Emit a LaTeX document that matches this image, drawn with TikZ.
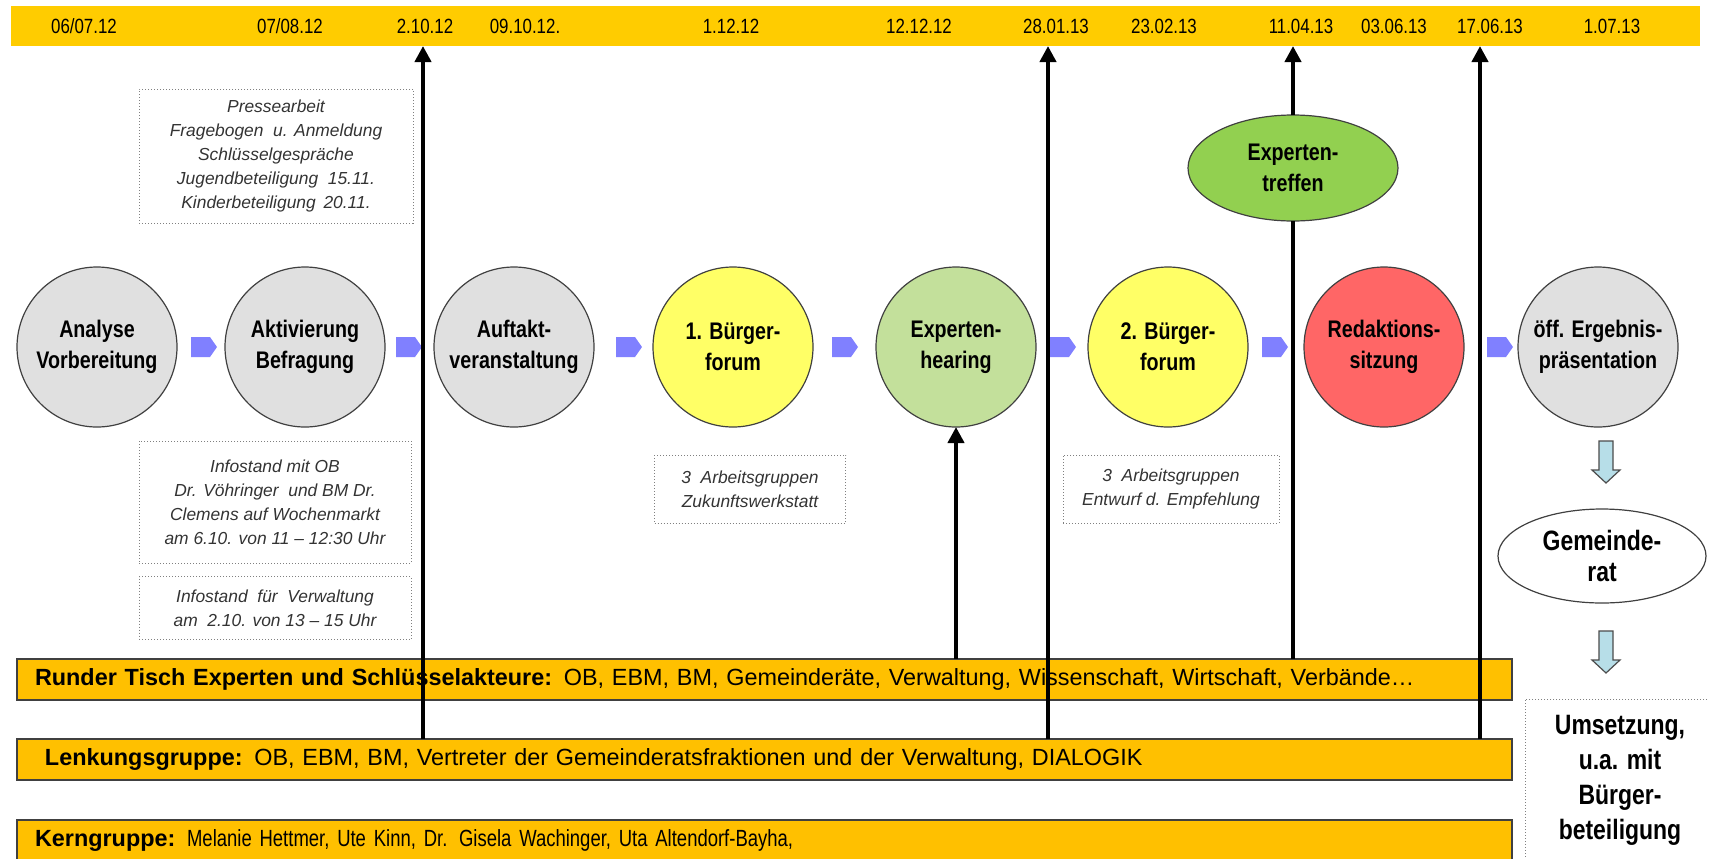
\documentclass[tikz,border=0pt]{standalone}
\usepackage{fontspec}
\setmainfont{Liberation Sans}
\newfontfamily\nar{Liberation Sans}[FakeStretch=0.82]
\newfontfamily\narr{Liberation Sans}[FakeStretch=0.79]
\usetikzlibrary{arrows.meta,shapes.geometric}
\definecolor{bandtop}{HTML}{FFCC00}
\definecolor{bandbot}{HTML}{FFC000}
\definecolor{cgrey}{HTML}{E0E0E0}
\definecolor{cyellow}{HTML}{FFFF66}
\definecolor{cgreen}{HTML}{C3E09B}
\definecolor{cred}{HTML}{FF6666}
\definecolor{egreen}{HTML}{92D050}
\definecolor{chevc}{HTML}{8080FF}
\definecolor{darr}{HTML}{B7DEE8}
\definecolor{edgec}{HTML}{404040}
\tikzset{
  chevron/.pic={\fill[chevc] (0,-10) -- (19,-10) -- (26,0) -- (19,10) -- (0,10) -- cycle;},
  downarrow/.pic={\draw[fill=darr, draw=gray!60!black, line width=0.6pt] (-7,0) -- (7,0) -- (7,29) -- (14,29) -- (0,42) -- (-14,29) -- (-7,29) -- cycle;}
}
\begin{document}
\begin{tikzpicture}[x=0.5pt,y=-0.5pt,
  every node/.style={inner sep=0pt, outer sep=0pt},
  datelbl/.style={font=\nar\fontsize{10.3}{12}\selectfont},
  phase/.style={circle, draw=edgec, line width=0.6pt, minimum size=80pt, align=center, font=\nar\bfseries\fontsize{12}{15.3}\selectfont},
  note/.style={draw=gray, densely dotted, line width=0.5pt, align=center, font=\itshape\fontsize{8.7}{12}\selectfont, text=black!80},
  band/.style={draw=edgec, line width=0.6pt, fill=bandbot, anchor=north west, minimum height=20.5pt, minimum width=747.5pt, inner xsep=9pt, text width=729.5pt, align=left, font=\fontsize{11.7}{14}\selectfont},
  vline/.style={line width=2pt},
  vtip/.style={-{Triangle[width=8pt,length=8pt]}}
]
\useasboundingbox (0,0) rectangle (1709,858);

% timeline band
\node[fill=bandtop, anchor=north west, minimum width=844.5pt, minimum height=20pt] (top) at (11,6) {};
\node[datelbl] (d1) at (84,26) {06/07.12};
\node[datelbl] (d2) at (290,26) {07/08.12};
\node[datelbl] (d3) at (425,26) {2.10.12};
\node[datelbl] (d4) at (525,26) {09.10.12.};
\node[datelbl] (d5) at (731,26) {1.12.12};
\node[datelbl] (d6) at (919,26) {12.12.12};
\node[datelbl] (d7) at (1056,26) {28.01.13};
\node[datelbl] (d8) at (1164,26) {23.02.13};
\node[datelbl] (d9) at (1301,26) {11.04.13};
\node[datelbl] (d10) at (1394,26) {03.06.13};
\node[datelbl] (d11) at (1490,26) {17.06.13};
\node[datelbl] (d12) at (1612,26) {1.07.13};

% bottom bands
\node[band] (runder) at (17,659) {{\bfseries Runder Tisch Experten und Schlüsselakteure:} OB, EBM, BM, Gemeinderäte, Verwaltung, Wissenschaft, Wirtschaft, Verbände…};
\node[band] (lenk) at (17,739) {\hspace{5pt}{\bfseries Lenkungsgruppe:} OB, EBM, BM, Vertreter der Gemeinderatsfraktionen und der Verwaltung, DIALOGIK};
\node[band] (kern) at (17,820) {{\bfseries Kerngruppe:} {\narr Melanie Hettmer, Ute Kinn, Dr. Gisela Wachinger, Uta Altendorf-Bayha,}};

% notes
\node[note, minimum width=137pt, minimum height=67pt] (press) at (276,156) {Pressearbeit\\Fragebogen \ u. Anmeldung\\Schlüsselgespräche\\Jugendbeteiligung \ 15.11.\\Kinderbeteiligung \,20.11.};
\node[note, minimum width=136pt, minimum height=61pt] (info1) at (275,502) {Infostand mit OB\\Dr. Vöhringer \ und BM Dr.\\Clemens auf Wochenmarkt\\am 6.10. von 11 -- 12:30 Uhr};
\node[note, minimum width=136pt, minimum height=31.5pt] (info2) at (275,608) {Infostand \ für \ Verwaltung\\am \ 2.10. von 13 -- 15 Uhr};
\node[note, minimum width=95.5pt, minimum height=34pt] (zuk) at (750,489) {3 \ Arbeitsgruppen\\Zukunftswerkstatt};
\node[note, minimum width=108pt, minimum height=34pt] (entw) at (1171,489) {3 \ Arbeitsgruppen\\Entwurf d. Empfehlung};

% phases
\node[phase, fill=cgrey] (analyse) at (97,347) {Analyse\\Vorbereitung};
\node[phase, fill=cgrey] (aktiv) at (305,347) {Aktivierung\\Befragung};
\node[phase, fill=cgrey] (auftakt) at (514,347) {Auftakt-\\veranstaltung};
\node[phase, fill=cyellow] (bf1) at (733,347) {1. Bürger-\\forum};
\node[phase, fill=cgreen] (hearing) at (956,347) {Experten-\\hearing};
\node[phase, fill=cyellow] (bf2) at (1168,347) {2. Bürger-\\forum};
\node[phase, fill=cred] (redak) at (1384,347) {Redaktions-\\sitzung};
\node[phase, fill=cgrey] (oeff) at (1598,347) {öff. Ergebnis-\\präsentation};

% chevrons
\foreach \cx in {191,396,616,832,1050,1262,1487} \pic at (\cx,347) {chevron};

% Experten-treffen
\node[ellipse, draw=edgec, line width=0.6pt, fill=egreen, minimum width=105pt, minimum height=53pt, align=center, font=\nar\bfseries\fontsize{12}{15.3}\selectfont] (treffen) at (1293,168) {Experten-\\treffen};

% right column
\pic at (1606,441) {downarrow};
\node[ellipse, draw=edgec, line width=0.6pt, fill=white, minimum width=104pt, minimum height=47pt, align=center, font=\nar\bfseries\fontsize{14}{15.5}\selectfont] (rat) at (1602,556) {Gemeinde-\\rat};
\pic at (1606,631) {downarrow};
\node[draw=gray, densely dotted, line width=0.5pt, minimum width=95pt, minimum height=81pt, align=center, font=\nar\bfseries\fontsize{14}{17.5}\selectfont] (ums) at (1620,780) {Umsetzung,\\u.a. mit\\Bürger-\\beteiligung};

% vertical connectors
\coordinate (x1) at (423,0);
\coordinate (x2) at (1048,0);
\coordinate (x4) at (1480,0);
\draw[vline,vtip] (lenk.north -| x1) -- (top.south -| x1);
\draw[vline,vtip] (lenk.north -| x2) -- (top.south -| x2);
\draw[vline,vtip] (lenk.north -| x4) -- (top.south -| x4);
\draw[vline] (runder.north -| treffen.south) -- (treffen.south);
\draw[vline,vtip] (treffen.north) -- (top.south -| treffen.north);
\draw[vline,vtip] (runder.north -| hearing.south) -- (hearing.south);
\end{tikzpicture}
\end{document}
